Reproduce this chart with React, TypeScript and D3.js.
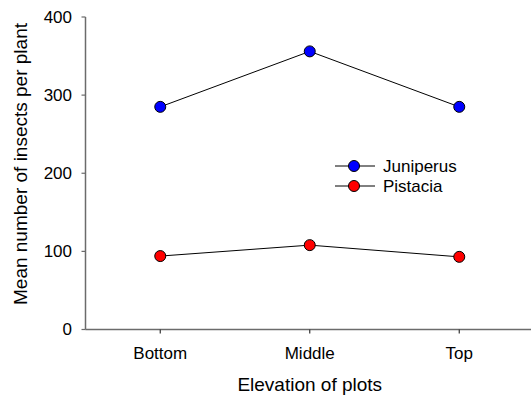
import { useRef, useEffect } from "react";
import * as d3 from "d3";

const elevations = ["Bottom", "Middle", "Top"];
const juniperus = [285, 356, 285];
const pistacia = [94, 108, 93];
const yTicks = [0, 100, 200, 300, 400];

const seriesList = [
  { name: "Juniperus", values: juniperus, color: "#0000ff" },
  { name: "Pistacia", values: pistacia, color: "#ff0000" },
];

const W = 531;
const H = 396;
const font = "'Liberation Sans', Arial, sans-serif";

export default function App() {
  const svgRef = useRef<SVGSVGElement>(null);

  useEffect(() => {
    if (!svgRef.current) return;
    const svg = d3.select(svgRef.current);
    svg.selectAll("*").remove();

    const x = d3.scaleBand().domain(elevations).range([85.5, 534]);
    const y = d3.scaleLinear().domain([0, 400]).range([329.5, 17]);
    const cx = (d: string) => x(d)! + x.bandwidth() / 2;

    // axes
    const axisColor = "#6b6b6b";
    svg.append("line")
      .attr("x1", 85.5).attr("x2", 85.5)
      .attr("y1", y(400)).attr("y2", y(0))
      .attr("stroke", axisColor).attr("stroke-width", 1.5);
    svg.append("line")
      .attr("x1", 85.5).attr("x2", W)
      .attr("y1", y(0)).attr("y2", y(0))
      .attr("stroke", axisColor).attr("stroke-width", 1.5);

    for (const t of yTicks) {
      svg.append("line")
        .attr("x1", 81.5).attr("x2", 85.5)
        .attr("y1", y(t)).attr("y2", y(t))
        .attr("stroke", axisColor).attr("stroke-width", 1.2);
      svg.append("text")
        .attr("x", 72).attr("y", y(t))
        .attr("text-anchor", "end")
        .attr("dominant-baseline", "central")
        .attr("font-family", font).attr("font-size", 17)
        .attr("fill", "#000")
        .text(t);
    }

    for (const e of elevations) {
      svg.append("line")
        .attr("x1", cx(e)).attr("x2", cx(e))
        .attr("y1", y(0)).attr("y2", y(0) + 4)
        .attr("stroke", "#333").attr("stroke-width", 1.2);
      svg.append("text")
        .attr("x", cx(e)).attr("y", 359)
        .attr("text-anchor", "middle")
        .attr("font-family", font).attr("font-size", 17)
        .attr("fill", "#000")
        .text(e);
    }

    // axis titles
    svg.append("text")
      .attr("x", 309.75).attr("y", 391)
      .attr("text-anchor", "middle")
      .attr("font-family", font).attr("font-size", 19)
      .attr("fill", "#000")
      .text("Elevation of plots");
    svg.append("text")
      .attr("transform", "translate(27,164) rotate(-90)")
      .attr("text-anchor", "middle")
      .attr("font-family", font).attr("font-size", 19)
      .attr("fill", "#000")
      .text("Mean number of insects per plant");

    // series
    const line = d3.line<number>()
      .x((_, i) => cx(elevations[i]))
      .y((v) => y(v));

    for (const s of seriesList) {
      svg.append("path")
        .attr("d", line(s.values)!)
        .attr("fill", "none")
        .attr("stroke", "#000")
        .attr("stroke-width", 1);
      s.values.forEach((v, i) => {
        svg.append("circle")
          .attr("cx", cx(elevations[i])).attr("cy", y(v))
          .attr("r", 5.5)
          .attr("fill", s.color)
          .attr("stroke", "#000").attr("stroke-width", 1);
      });
    }

    // legend
    seriesList.forEach((s, i) => {
      const ly = 166 + i * 20;
      svg.append("line")
        .attr("x1", 335).attr("x2", 375)
        .attr("y1", ly).attr("y2", ly)
        .attr("stroke", "#000").attr("stroke-width", 1);
      svg.append("circle")
        .attr("cx", 354).attr("cy", ly).attr("r", 5.5)
        .attr("fill", s.color)
        .attr("stroke", "#000").attr("stroke-width", 1);
      svg.append("text")
        .attr("x", 383).attr("y", ly)
        .attr("dominant-baseline", "central")
        .attr("font-family", font).attr("font-size", 17)
        .attr("fill", "#000")
        .text(s.name);
    });
  }, []);

  return (
    <svg
      ref={svgRef}
      width={W}
      height={H}
      viewBox={`0 0 ${W} ${H}`}
      style={{ position: "absolute", left: 0, top: 0, background: "#fff" }}
    />
  );
}
